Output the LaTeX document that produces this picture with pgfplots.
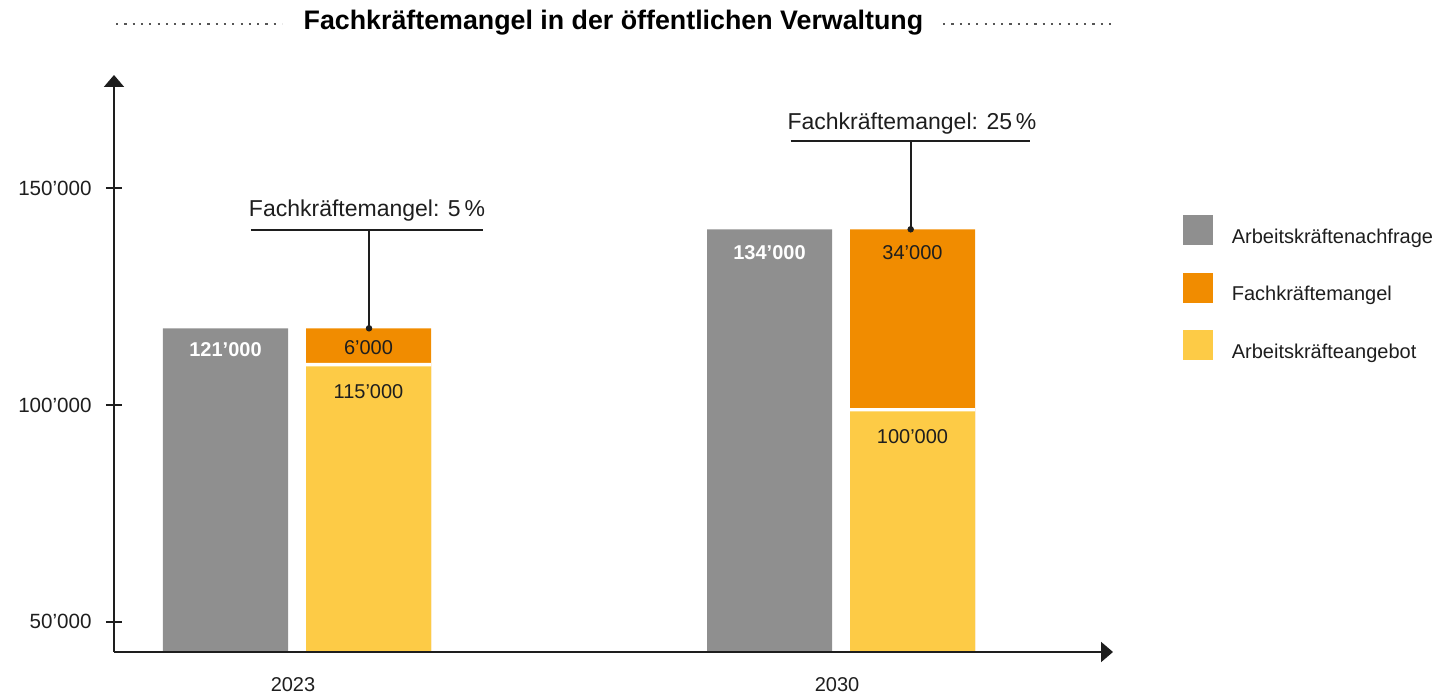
\documentclass[border=0pt]{standalone}
\usepackage{fontspec}
\setmainfont{Liberation Sans}
\usepackage{pgfplots}
\pgfplotsset{compat=1.18}
\usetikzlibrary{arrows.meta}
\definecolor{cgray}{HTML}{8F8F8F}
\definecolor{corange}{HTML}{F18C00}
\definecolor{cyellow}{HTML}{FDCB46}
\definecolor{cdark}{HTML}{1E1E1E}
\definecolor{cdot}{HTML}{555555}
\begin{document}
\begin{tikzpicture}
\useasboundingbox (-57pt,-22pt) rectangle (667.5pt,326pt);
\begin{axis}[
  at={(0pt,0pt)}, anchor=south west,
  scale only axis, width=499.5pt, height=288.5pt,
  xmin=-0.3364, xmax=1.5, ymin=43010, ymax=176142,
  axis lines=left,
  axis line style={line width=1pt, draw=cdark, -{Triangle[length=6pt,width=10pt]}},
  axis on top,
  scaled y ticks=false,
  xtick={0,1}, xticklabels={2023,2030},
  xtick style={draw=none},
  ytick={50000,100000,150000}, yticklabels={50’000,100’000,150’000},
  ytick style={line width=1pt, draw=cdark},
  tick align=center, major tick length=8pt,
  yticklabel style={font=\fontsize{10.3}{12}\selectfont, text=cdark, anchor=east, inner sep=0pt, xshift=-7pt},
  xticklabel style={font=\fontsize{10}{12}\selectfont, text=cdark, anchor=center, inner sep=0pt, yshift=-12.5pt, xshift=-2pt},
  legend style={at={(1.0701,0.7574)}, anchor=north west, draw=none, fill=none, inner sep=0pt,
    font=\fontsize{10}{12}\selectfont, text=cdark, row sep=13.3pt, nodes={inner sep=0pt},
    /tikz/every odd column/.append style={column sep=9.2pt}},
  legend cell align=left,
  legend image code/.code={\fill[#1] (0pt,-3.9pt) rectangle (15pt,11.1pt);},
]
\addplot[ybar, bar width=62.5pt, bar shift=-35.75pt, fill=cgray, draw=none]
  coordinates {(0,117698) (1,140540)};
\addlegendentry{Arbeitskräftenachfrage}
\addplot[ybar, bar width=62.5pt, bar shift=35.75pt, fill=corange, draw=none]
  coordinates {(0,117698) (1,140540)};
\addlegendentry{Fachkräftemangel}
\addplot[ybar, bar width=62.5pt, bar shift=35.75pt, fill=white, draw=none, forget plot]
  coordinates {(0,109700) (1,99300)};
\addplot[ybar, bar width=62.5pt, bar shift=35.75pt, fill=cyellow, draw=none]
  coordinates {(0,108900) (1,98550)};
\addlegendentry{Arbeitskräfteangebot}
% leader lines
\draw[cdark, line width=1pt] (axis cs:-0.0846,140378) -- (axis cs:0.3419,140378);
\draw[cdark, line width=1pt] (axis cs:0.1324,140378) -- (axis cs:0.1324,117698);
\draw[cdark, line width=1pt] (axis cs:0.9075,160844) -- (axis cs:1.3474,160844);
\draw[cdark, line width=1pt] (axis cs:1.1281,160844) -- (axis cs:1.1281,140540);
\addplot[only marks, mark=*, mark size=1.4pt, color=cdark, forget plot]
  coordinates {(0.1324,117698) (1.1281,140540)};
\node[anchor=base, font=\fontsize{11.5}{14}\selectfont, text=cdark] at (axis cs:0.1287,143447) {Fachkräftemangel: 5\,\%};
\node[anchor=base, font=\fontsize{11.5}{14}\selectfont, text=cdark] at (axis cs:1.1305,163613) {Fachkräftemangel: 25\,\%};
% bar labels
\node[font=\bfseries\fontsize{10}{12}\selectfont, text=white, inner sep=0pt] at (axis cs:-0.1314,112760) {121’000};
\node[font=\fontsize{10}{12}\selectfont, text=cdark, inner sep=0pt] at (axis cs:0.1314,113200) {6’000};
\node[font=\fontsize{10}{12}\selectfont, text=cdark, inner sep=0pt] at (axis cs:0.1314,103000) {115’000};
\node[font=\bfseries\fontsize{10}{12}\selectfont, text=white, inner sep=0pt] at (axis cs:0.8686,135234) {134’000};
\node[font=\fontsize{10}{12}\selectfont, text=cdark, inner sep=0pt] at (axis cs:1.1314,135120) {34’000};
\node[font=\fontsize{10}{12}\selectfont, text=cdark, inner sep=0pt] at (axis cs:1.1314,92686) {100’000};
\end{axis}
% title with dotted rules
\node[anchor=base, font=\bfseries\fontsize{13.4}{16}\selectfont, inner sep=0pt] at (249.7pt,311pt) {Fachkräftemangel in der öffentlichen Verwaltung};
\draw[cdot, line width=1.1pt, dash pattern=on 1.1pt off 3.05pt] (1pt,314pt) -- (84pt,314pt);
\draw[cdot, line width=1.1pt, dash pattern=on 1.1pt off 3.05pt] (414.5pt,314pt) -- (501.5pt,314pt);
\end{tikzpicture}
\end{document}
